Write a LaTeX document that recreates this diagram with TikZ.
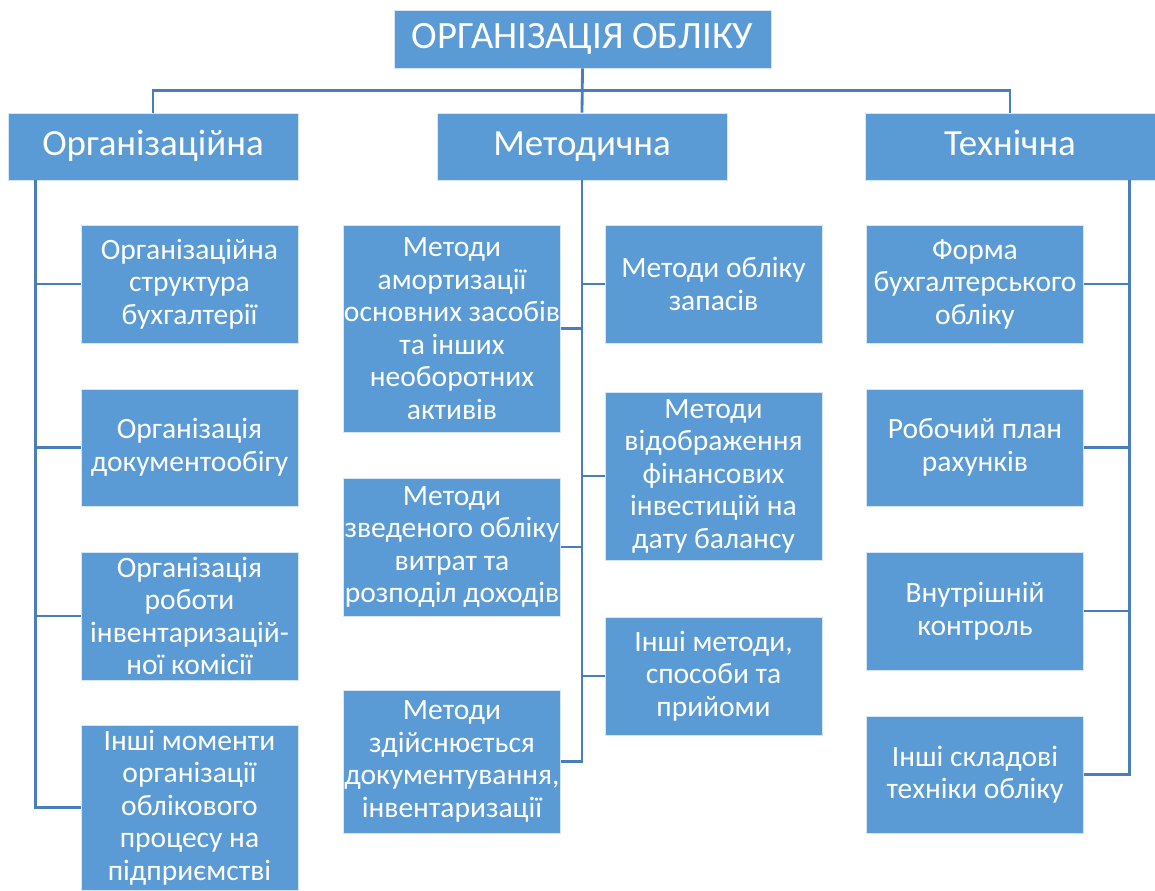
\documentclass[tikz,border=0pt]{standalone}
\usepackage{fontspec}
\setmainfont{Carlito}
\usetikzlibrary{calc}
\definecolor{boxblue}{RGB}{91,155,213}
\definecolor{lineblue}{RGB}{74,126,187}

\begin{document}
\begin{tikzpicture}[x=0.02cm,y=-0.02cm,
	box/.style={fill=boxblue,draw=white!75!boxblue,line width=0.4pt,text=white,align=center,inner sep=0pt},
	head/.style={box,minimum width=5.8cm,minimum height=1.34cm,text height=15pt,text depth=4.2pt,font=\fontsize{21}{25}\selectfont},
	item/.style={box,minimum width=4.34cm,font=\fontsize{16.8}{18.5}\selectfont},
	link/.style={draw=lineblue,line width=1.6pt}]
	\useasboundingbox (0,0) rectangle (1155,890);

	\draw (582.5,39) node (root) [box,minimum width=7.54cm,minimum height=1.16cm,font=\fontsize{22}{26}\selectfont] {ОРГАНІЗАЦІЯ ОБЛІКУ};
	\draw (153,146.5) node (org) [head] {Організаційна};
	\draw (582,146.5) node (met) [head] {Методична};
	\draw (1010,146.5) node (tech) [head] {Технічна};

	% organisational column
	\draw (189.5,284) node (o1) [item,minimum height=2.36cm] {Організаційна\\структура\\бухгалтерії};
	\draw (189.5,447.5) node (o2) [item,minimum height=2.34cm] {Організація\\документообігу};
	\draw (189.5,616) node (o3) [item,minimum height=2.56cm] {Організація\\роботи\\інвентаризацій-\\ної комісії};
	\draw (189.5,807.5) node (o4) [item,minimum height=3.3cm] {Інші моменти\\організації\\облікового\\процесу на\\підприємстві};

	% methodical columns
	\draw (452,328.5) node (ma) [item,minimum height=4.14cm] {Методи\\амортизації\\основних засобів\\та інших\\необоротних\\активів};
	\draw (452,547) node (mb) [item,minimum height=2.76cm] {Методи\\зведеного обліку\\витрат та\\розподіл доходів};
	\draw (452,761.5) node (mc) [item,minimum height=2.86cm] {Методи\\здійснюється\\документування,\\інвентаризації};
	\draw (713.5,284) node (md) [item,minimum height=2.36cm] {Методи обліку\\запасів};
	\draw (713.5,476) node (me) [item,minimum height=3.36cm] {Методи\\відображення\\фінансових\\інвестицій на\\дату балансу};
	\draw (713.5,676) node (mf) [item,minimum height=2.36cm] {Інші методи,\\способи та\\прийоми};

	% technical column
	\draw (975,284) node (t1) [item,minimum height=2.36cm] {Форма\\бухгалтерського\\обліку};
	\draw (975,447.5) node (t2) [item,minimum height=2.34cm] {Робочий план\\рахунків};
	\draw (975,611) node (t3) [item,minimum height=2.36cm] {Внутрішній\\контроль};
	\draw (975,774.5) node (t4) [item,minimum height=2.34cm] {Інші складові\\техніки обліку};

	% connectors
	\coordinate (bus) at ($(root.south)!0.5!(met.north)$);
	\draw[link] (root.south) -- (met.north);
	\draw[link] (org.north) |- (bus) -| (tech.north);

	\coordinate (orgtrunk) at ([xshift=0.56cm]org.south west);
	\draw[link] (orgtrunk) |- (o4.west);
	\draw[link] (o1.west) -- (o1.west -| orgtrunk);
	\draw[link] (o2.west) -- (o2.west -| orgtrunk);
	\draw[link] (o3.west) -- (o3.west -| orgtrunk);

	\draw[link] (met.south) |- (mc.east);
	\draw[link] (ma.east) -- (ma.east -| met.south);
	\draw[link] (mb.east) -- (mb.east -| met.south);
	\draw[link] (md.west) -- (md.west -| met.south);
	\draw[link] (me.west) -- (me.west -| met.south);
	\draw[link] (mf.west) -- (mf.west -| met.south);

	\coordinate (techtrunk) at ([xshift=-0.52cm]tech.south east);
	\draw[link] (techtrunk) |- (t4.east);
	\draw[link] (t1.east) -- (t1.east -| techtrunk);
	\draw[link] (t2.east) -- (t2.east -| techtrunk);
	\draw[link] (t3.east) -- (t3.east -| techtrunk);
\end{tikzpicture}
\end{document}
